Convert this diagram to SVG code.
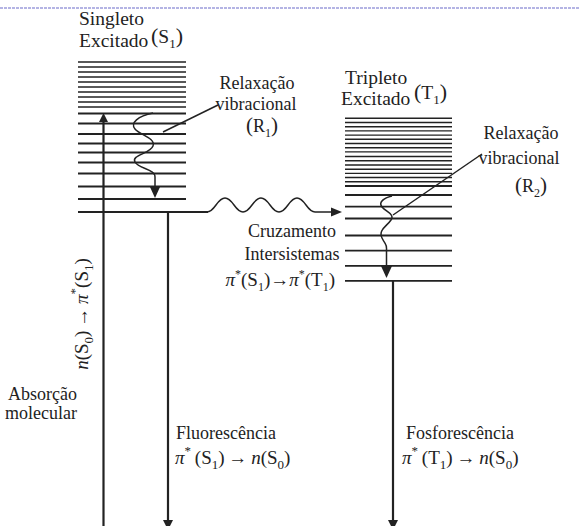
<svg xmlns="http://www.w3.org/2000/svg" width="579" height="526" viewBox="0 0 579 526">
<style>
text{font-family:"Liberation Serif","Times New Roman",serif;fill:#222}
.lv{stroke:#222;stroke-width:1.8;fill:none}
.ln{stroke:#222;stroke-width:1.4;fill:none}
.ar{stroke:#222;stroke-width:2.2;fill:none}
.wv{stroke:#222;stroke-width:1.5;fill:none}
.hd{fill:#222}
.lb{font-size:19.5px}
.tx{font-size:18px}
.fm{font-size:19px}
.it{font-style:italic}
</style>
<line x1="0" y1="8" x2="579" y2="8" stroke="#9c9cdc" stroke-width="1.5" stroke-dasharray="3 1"/>

<g id="singleto">
<text class="lb" x="79" y="25">Singleto</text>
<text class="lb" x="79" y="47">Excitado</text>
<text class="lb" x="151" y="43"><tspan font-size="22">(</tspan>S<tspan font-size="13" dy="5">1</tspan><tspan font-size="22" dy="-5">)</tspan></text>
<g class="ln">
<path d="M78,62H186M78,67H186M78,72H186M78,77H186M78,82H186M78,87H186M78,92H186M78,97H186M78,102H186M78,107H186"/>
</g>
<g class="lv">
<path d="M78,113.5H186M78,123.5H186M78,134H186M78,143.5H186M78,152.5H186M78,162.5H186M78,173.5H186M78,186.5H186M78,199H186M78,212H208"/>
</g>
</g>

<g id="tripleto">
<text class="lb" x="345" y="84">Tripleto</text>
<text class="lb" x="341" y="105">Excitado</text>
<text class="lb" x="414" y="99"><tspan font-size="22">(</tspan>T<tspan font-size="13" dy="5">1</tspan><tspan font-size="22" dy="-5">)</tspan></text>
<g class="ln">
<path d="M345,118.3H452M345,122.5H452M345,126.7H452M345,130.9H452M345,135.1H452M345,139.3H452M345,143.5H452M345,147.7H452M345,151.9H452M345,156.5H452M345,160.7H452M345,165H452M345,169.3H452M345,173.4H452M345,177.5H452M345,181.7H452"/>
</g>
<g class="lv">
<path d="M345,186H452M345,195H452M345,206.7H452M345,218.5H452M345,235.5H452M345,250.7H452M345,265.8H452M345,280.8H452"/>
</g>
</g>

<g id="r1">
<text class="tx" x="257" y="89" text-anchor="middle">Relaxação</text>
<text class="tx" x="256" y="110" text-anchor="middle">vibracional</text>
<text class="tx" x="262" y="132" text-anchor="middle"><tspan font-size="21">(</tspan>R<tspan font-size="12" dy="5">1</tspan><tspan font-size="21" dy="-5">)</tspan></text>
</g>

<g id="r2">
<text class="tx" x="521" y="139" text-anchor="middle">Relaxação</text>
<text class="tx" x="519" y="164" text-anchor="middle">vibracional</text>
<text class="tx" x="531" y="192" text-anchor="middle"><tspan font-size="21">(</tspan>R<tspan font-size="12" dy="5">2</tspan><tspan font-size="21" dy="-5">)</tspan></text>
</g>

<g id="cruzamento">
<text class="tx" x="292" y="237" text-anchor="middle">Cruzamento</text>
<text class="tx" x="292" y="260" text-anchor="middle">Intersistemas</text>
<text class="fm" x="335" y="286" text-anchor="end"><tspan class="it">π</tspan><tspan font-size="12" dy="-8">*</tspan><tspan dy="8">(S</tspan><tspan font-size="12" dy="5">1</tspan><tspan dy="-5">)→</tspan><tspan class="it">π</tspan><tspan font-size="12" dy="-8">*</tspan><tspan dy="8">(T</tspan><tspan font-size="12" dy="5">1</tspan><tspan dy="-5">)</tspan></text>
</g>

<g id="absorcao">
<text class="tx" x="8" y="400">Absorção</text>
<text class="tx" x="5" y="419">molecular</text>
<text class="fm" font-size="21" transform="translate(88,314) rotate(-90)" text-anchor="middle"><tspan class="it">n</tspan>(S<tspan font-size="13" dy="5">0</tspan><tspan dy="-5">)&#8201;→&#8201;</tspan><tspan class="it">π</tspan><tspan font-size="13" dy="-9">*</tspan><tspan dy="9">(S</tspan><tspan font-size="13" dy="5">1</tspan><tspan dy="-5">)</tspan></text>
</g>

<g id="fluorescencia">
<text class="tx" x="176" y="439">Fluorescência</text>
<text class="fm" font-size="20" x="175" y="464"><tspan class="it">π</tspan><tspan font-size="13" dy="-9">*</tspan><tspan dy="9">&#8201;(S</tspan><tspan font-size="13" dy="5">1</tspan><tspan dy="-5">)&#8201;→&#8201;</tspan><tspan class="it">n</tspan>(S<tspan font-size="13" dy="5">0</tspan><tspan dy="-5">)</tspan></text>
</g>

<g id="fosforescencia">
<text class="tx" font-size="19" x="406" y="439">Fosforescência</text>
<text class="fm" font-size="20" x="402" y="464"><tspan class="it">π</tspan><tspan font-size="13" dy="-9">*</tspan><tspan dy="9">&#8201;(T</tspan><tspan font-size="13" dy="5">1</tspan><tspan dy="-5">)&#8201;→&#8201;</tspan><tspan class="it">n</tspan>(S<tspan font-size="13" dy="5">0</tspan><tspan dy="-5">)</tspan></text>
</g>

<g id="connectors">
<line class="ar" x1="103.5" y1="526" x2="103.5" y2="121"/>
<polygon class="hd" points="103.5,113 99,122 108,122"/>
<path class="wv" d="M153,113 C138,116 130,123 135,129 S156,138 153,146 S131,155 135,162 S155,169 155,177 L155,188"/>
<polygon class="hd" points="155,198 150,187 160,187"/>
<line class="wv" x1="218" y1="105" x2="163" y2="132"/>
<path class="wv" d="M207,212 C215,212 217,198 225,198 S235,212 243,212 S253,198 261,198 S271,212 279,212 S289,198 297,198 S307,212 315,212 L332,212"/>
<polygon class="hd" points="342,212 331,207.5 331,216.5"/>
<line class="ar" x1="168" y1="212" x2="168" y2="522"/>
<polygon class="hd" points="168,530 163,520 173,520"/>
<path class="wv" d="M392,196 C384,198 378,202 382,207 S395,214 391,220 S378,230 382,238 S387,244 386.5,250 L386.5,267"/>
<polygon class="hd" points="386.5,278 381,266 392,266"/>
<line class="wv" x1="482" y1="154" x2="393" y2="215"/>
<line class="ar" x1="393" y1="281" x2="393" y2="522"/>
<polygon class="hd" points="393,530 388,520 398,520"/>
</g>
</svg>
